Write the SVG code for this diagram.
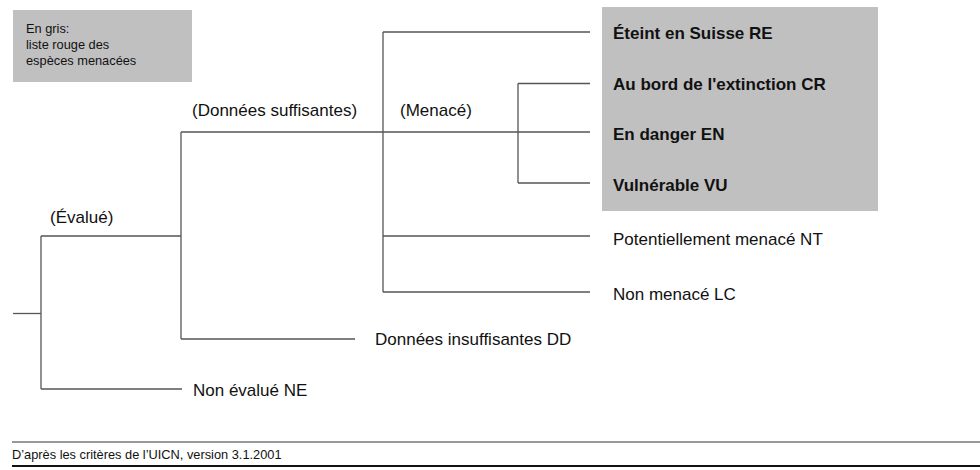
<svg xmlns="http://www.w3.org/2000/svg" width="980" height="470" viewBox="0 0 980 470">
<style>
  .t { font-family: "Liberation Sans", Arial, sans-serif; font-size: 17px; fill: #111; }
  .b { font-weight: bold; }
  .small { font-family: "Liberation Sans", Arial, sans-serif; font-size: 12.8px; fill: #111; }
  .conn { stroke: #555; stroke-width: 1.3; fill: none; }
  .grey { fill: #c0c0c0; }
</style>
<rect width="980" height="470" fill="#ffffff"/>

<g id="legend">
  <rect class="grey" x="13" y="10" width="179" height="72"/>
  <text class="small" x="26" y="33">En gris:</text>
  <text class="small" x="26" y="49">liste rouge des</text>
  <text class="small" x="26" y="65">espèces menacées</text>
</g>

<g id="redlist-box">
  <rect class="grey" x="602" y="7" width="276" height="204"/>
</g>

<g id="connectors">
  <path class="conn" d="M13 313.5 H41"/>
  <path class="conn" d="M41 236 V389"/>
  <path class="conn" d="M41 236 H181"/>
  <path class="conn" d="M41 389 H182"/>
  <path class="conn" d="M181 132 V339"/>
  <path class="conn" d="M181 339 H355"/>
  <path class="conn" d="M181 132 H590"/>
  <path class="conn" d="M383 32 V292"/>
  <path class="conn" d="M383 32 H590"/>
  <path class="conn" d="M383 236 H590"/>
  <path class="conn" d="M383 292 H590"/>
  <path class="conn" d="M518 83.5 V183"/>
  <path class="conn" d="M518 83.5 H590"/>
  <path class="conn" d="M518 183 H590"/>
</g>

<g id="label-evalue"><text class="t" x="50" y="223">(Évalué)</text></g>
<g id="label-donnees-suffisantes"><text class="t" x="192" y="116">(Données suffisantes)</text></g>
<g id="label-menace"><text class="t" x="400" y="116">(Menacé)</text></g>

<g id="node-RE"><text class="t b" x="613" y="39">Éteint en Suisse RE</text></g>
<g id="node-CR"><text class="t b" x="613" y="90">Au bord de l'extinction CR</text></g>
<g id="node-EN"><text class="t b" x="613" y="140">En danger EN</text></g>
<g id="node-VU"><text class="t b" x="613" y="191">Vulnérable VU</text></g>
<g id="node-NT"><text class="t" x="613" y="245">Potentiellement menacé NT</text></g>
<g id="node-LC"><text class="t" x="613" y="300">Non menacé LC</text></g>
<g id="node-DD"><text class="t" x="375" y="345">Données insuffisantes DD</text></g>
<g id="node-NE"><text class="t" x="193" y="396">Non évalué NE</text></g>

<g id="footer">
  <line x1="12" y1="442" x2="980" y2="442" stroke="#333" stroke-width="1"/>
  <text class="small" x="12" y="459">D’après les critères de l’UICN, version 3.1.2001</text>
  <line x1="12" y1="466" x2="980" y2="466" stroke="#111" stroke-width="2.2"/>
</g>
</svg>
